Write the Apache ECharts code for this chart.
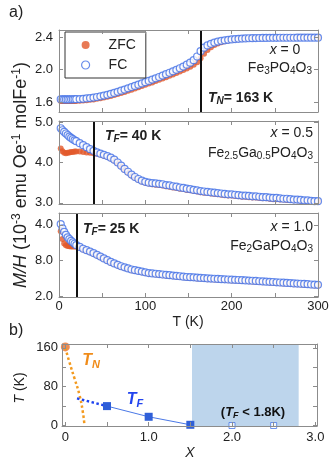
<!DOCTYPE html>
<html lang="en">
<head>
<meta charset="UTF-8">
<title>Fe3-xGaxPO4O3 M/H</title>
<script src="https://cdn.jsdelivr.net/npm/echarts@6/dist/echarts.min.js"></script>
<style>
    html, body {margin: 0; padding: 0; background: #fff;}
    #chart {width: 332px; height: 462px;}
</style>
</head>
<body>
<div id="chart"></div>
<script>
// temperatures (K), shared by every M/H curve
var temps = [2, 4, 6, 8, 10, 12, 14, 16, 18, 20,
    24, 28, 32, 36, 40, 44, 48, 52, 56, 60,
    64, 68, 72, 76, 80, 84, 88, 92, 96, 100,
    104, 108, 112, 116, 120, 124, 128, 132, 136, 140,
    144, 148, 152, 156, 160, 164, 168, 172, 176, 180,
    184, 188, 192, 196, 200, 204, 208, 212, 216, 220,
    224, 228, 232, 236, 240, 244, 248, 252, 256, 260,
    264, 268, 272, 276, 280, 284, 288, 292, 296, 300];

// x = 0
var fc0 = [1.636, 1.635, 1.634, 1.634, 1.634, 1.634, 1.635, 1.635, 1.636, 1.637,
    1.639, 1.642, 1.646, 1.651, 1.657, 1.664, 1.672, 1.681, 1.691, 1.702,
    1.714, 1.727, 1.741, 1.755, 1.770, 1.785, 1.800, 1.815, 1.830, 1.845,
    1.861, 1.877, 1.893, 1.909, 1.926, 1.943, 1.961, 1.979, 1.997, 2.016,
    2.037, 2.060, 2.085, 2.115, 2.160, 2.225, 2.268, 2.296, 2.316, 2.331,
    2.343, 2.352, 2.359, 2.365, 2.370, 2.374, 2.377, 2.380, 2.382, 2.384,
    2.385, 2.386, 2.387, 2.388, 2.388, 2.389, 2.389, 2.389, 2.390, 2.390,
    2.390, 2.390, 2.390, 2.391, 2.391, 2.391, 2.391, 2.391, 2.391, 2.391];
var zfc0 = [1.616, 1.615, 1.614, 1.614, 1.614, 1.614, 1.614, 1.615, 1.615, 1.616,
    1.618, 1.621, 1.624, 1.629, 1.634, 1.641, 1.649, 1.657, 1.667, 1.677,
    1.688, 1.700, 1.713, 1.726, 1.740, 1.754, 1.768, 1.783, 1.798, 1.813,
    1.828, 1.843, 1.859, 1.875, 1.891, 1.907, 1.924, 1.941, 1.958, 1.976,
    1.994, 2.013, 2.034, 2.058, 2.090, 2.140, 2.195, 2.240, 2.275, 2.300,
    2.320, 2.335, 2.346, 2.355, 2.362, 2.368, 2.372, 2.376, 2.379, 2.381,
    2.382, 2.383, 2.384, 2.385, 2.386, 2.386, 2.387, 2.387, 2.387, 2.388,
    2.388, 2.388, 2.388, 2.389, 2.389, 2.389, 2.389, 2.389, 2.389, 2.389];

// x = 0.5
var fc1 = [4.85, 4.80, 4.76, 4.72, 4.68, 4.64, 4.61, 4.58, 4.55, 4.53,
    4.48, 4.43, 4.38, 4.33, 4.29, 4.25, 4.22, 4.19, 4.16, 4.12,
    4.07, 4.00, 3.92, 3.84, 3.77, 3.70, 3.64, 3.59, 3.55, 3.52,
    3.50, 3.49, 3.48, 3.47, 3.46, 3.44, 3.43, 3.41, 3.40, 3.38,
    3.37, 3.35, 3.34, 3.32, 3.31, 3.29, 3.28, 3.27, 3.26, 3.25,
    3.24, 3.23, 3.22, 3.21, 3.21, 3.20, 3.19, 3.18, 3.18, 3.17,
    3.16, 3.16, 3.15, 3.14, 3.14, 3.13, 3.12, 3.12, 3.11, 3.10,
    3.10, 3.09, 3.08, 3.08, 3.07, 3.06, 3.06, 3.05, 3.04, 3.04];
var zfc1 = [4.35, 4.28, 4.24, 4.23, 4.24, 4.25, 4.26, 4.26, 4.27, 4.27,
    4.27, 4.26, 4.25, 4.24, 4.23, 4.22, 4.20, 4.17, 4.14, 4.10,
    4.05, 3.98, 3.90, 3.82, 3.75, 3.68, 3.62, 3.57, 3.53, 3.50,
    3.48, 3.46, 3.45, 3.44, 3.43, 3.41, 3.40, 3.38, 3.37, 3.35,
    3.34, 3.32, 3.31, 3.29, 3.28, 3.26, 3.25, 3.24, 3.23, 3.22,
    3.21, 3.20, 3.19, 3.18, 3.18, 3.17, 3.16, 3.15, 3.15, 3.14,
    3.13, 3.13, 3.12, 3.11, 3.11, 3.10, 3.09, 3.09, 3.08, 3.08,
    3.07, 3.07, 3.06, 3.06, 3.05, 3.05, 3.05, 3.04, 3.04, 3.03];

// x = 1.0
var fc2 = [4.02, 3.90, 3.80, 3.72, 3.65, 3.60, 3.55, 3.51, 3.47, 3.43,
    3.38, 3.33, 3.29, 3.25, 3.21, 3.16, 3.11, 3.06, 3.01, 2.96,
    2.92, 2.88, 2.84, 2.81, 2.78, 2.75, 2.73, 2.71, 2.69, 2.67,
    2.65, 2.64, 2.63, 2.62, 2.61, 2.60, 2.59, 2.58, 2.57, 2.56,
    2.55, 2.54, 2.535, 2.53, 2.52, 2.515, 2.51, 2.50, 2.495, 2.49,
    2.485, 2.48, 2.475, 2.47, 2.465, 2.46, 2.455, 2.45, 2.445, 2.44,
    2.435, 2.43, 2.42, 2.415, 2.41, 2.405, 2.40, 2.39, 2.385, 2.38,
    2.375, 2.37, 2.36, 2.355, 2.35, 2.345, 2.34, 2.33, 2.325, 2.32];
var zfc2 = [3.82, 3.60, 3.48, 3.43, 3.41, 3.40, 3.39, 3.39, 3.39, 3.39,
    3.36, 3.31, 3.27, 3.23, 3.19, 3.14, 3.09, 3.04, 2.99, 2.94,
    2.90, 2.86, 2.82, 2.79, 2.76, 2.73, 2.71, 2.69, 2.67, 2.65,
    2.63, 2.62, 2.61, 2.60, 2.59, 2.58, 2.57, 2.56, 2.55, 2.54,
    2.53, 2.52, 2.515, 2.51, 2.50, 2.495, 2.49, 2.48, 2.475, 2.47,
    2.465, 2.46, 2.455, 2.45, 2.445, 2.44, 2.435, 2.43, 2.425, 2.42,
    2.415, 2.41, 2.40, 2.395, 2.39, 2.385, 2.38, 2.37, 2.365, 2.36,
    2.355, 2.35, 2.34, 2.335, 2.33, 2.325, 2.32, 2.31, 2.305, 2.30];

// transition lines (K)
var transT = [164, 40, 20];

// tick values and labels
var tTicks = [0, 50, 100, 150, 200, 250, 300];
var tLabelVals = [0, 100, 200, 300];
var tLabels = ['0', '100', '200', '300'];
var yTicks0 = [1.6, 2.0, 2.4], yLabels0 = ['1.6', '2.0', '2.4'];
var yTicks1 = [3.0, 4.0, 5.0], yLabels1 = ['3.0', '4.0', '5.0'];
var yTicks2 = [2.0, 3.0, 4.0], yLabels2 = ['2.0', '8.0', '4.0'];
var xbTicks = [0, 0.5, 1.0, 1.5, 2.0, 2.5, 3.0];
var xbLabelVals = [0, 1, 2, 3], xbLabels = ['0', '1.0', '2.0', '3.0'];
var ybTicks = [0, 40, 80, 120, 160];
var ybLabelVals = [0, 80, 160], ybLabels = ['0', '80', '160'];

// phase diagram b)
var tnX = [0, 0.05, 0.11, 0.17, 0.21, 0.23];
var tnY = [160, 130, 97, 63, 28, 0];
var tnPointX = [0], tnPointY = [162];
var tfDotX = [0.14, 0.5], tfDotY = [56, 40];
var tfX = [0.5, 1.0, 1.5], tfY = [40, 18, 1.5];
var tfOpenX = [2.0, 2.5], tfOpenY = [0, 0];
var shadeX = [1.52, 2.8];

var blue = '#4470e6', orange = '#e2592a';
var axisGray = '#8c8c8c';
var font = 'Liberation Sans';

function zip(xs, ys) {
    return xs.map(function (x, i) { return [x, ys[i]]; });
}

function mkAxis(grid, pos, min, max, ticks, labelVals, labels, margin) {
    var ax = {
        type: 'value', gridIndex: grid, position: pos, min: min, max: max, z: 5,
        axisLine: {show: true, onZero: false, lineStyle: {color: axisGray, width: 1}},
        axisTick: {show: true, inside: true, length: 4, customValues: ticks, lineStyle: {color: axisGray}},
        splitLine: {show: false},
        axisLabel: {show: false}
    };
    if (labels) {
        ax.axisLabel = {
            show: true, customValues: labelVals, margin: margin,
            color: '#222', fontSize: 13, fontFamily: font,
            formatter: function (v) {
                for (var i = 0; i < labelVals.length; i++) {
                    if (Math.abs(v - labelVals[i]) < 1e-6) return labels[i];
                }
                return '';
            }
        };
    }
    return ax;
}

var grids = [
    {left: 59, top: 30, width: 259, height: 82},
    {left: 59, top: 121, width: 259, height: 83},
    {left: 59, top: 213, width: 259, height: 84},
    {left: 62, top: 344, width: 255, height: 82}
];

var yRanges = [[1.48, 2.485, yTicks0, yLabels0], [2.97, 5.03, yTicks1, yLabels1], [1.98, 4.33, yTicks2, yLabels2]];
var xAxes = [], yAxes = [];
for (var g = 0; g < 3; g++) {
    xAxes.push(mkAxis(g, 'bottom', 0, 300, tTicks, tLabelVals, g === 2 ? tLabels : null, 3));
    xAxes.push(mkAxis(g, 'top', 0, 300, tTicks));
    var yr = yRanges[g];
    yAxes.push(mkAxis(g, 'left', yr[0], yr[1], yr[2], yr[2], yr[3], 6));
    yAxes.push(mkAxis(g, 'right', yr[0], yr[1], yr[2]));
}
xAxes.push(mkAxis(3, 'bottom', -0.04, 3.02, xbTicks, xbLabelVals, xbLabels, 5));
xAxes.push(mkAxis(3, 'top', -0.04, 3.02, xbTicks));
yAxes.push(mkAxis(3, 'left', -1, 168, ybTicks, ybLabelVals, ybLabels, 4));
yAxes.push(mkAxis(3, 'right', -1, 168, ybTicks));

var series = [];
[[zfc0, fc0], [zfc1, fc1], [zfc2, fc2]].forEach(function (p, i) {
    series.push({
        type: 'scatter', name: 'ZFC', xAxisIndex: 2 * i, yAxisIndex: 2 * i,
        data: zip(temps, p[0]), symbolSize: 6, itemStyle: {color: orange}
    });
    series.push({
        type: 'scatter', name: 'FC', xAxisIndex: 2 * i, yAxisIndex: 2 * i,
        data: zip(temps, p[1]), symbolSize: 7,
        itemStyle: {color: '#fff', borderColor: blue, borderWidth: 1.2},
        markLine: {
            silent: true, symbol: ['none', 'none'], label: {show: false},
            lineStyle: {color: '#111', width: 2, type: 'solid'},
            data: [{xAxis: transT[i]}]
        }
    });
});

// b) phase diagram
series.push({
    type: 'scatter', name: 'open', xAxisIndex: 6, yAxisIndex: 6,
    data: zip(tfOpenX, tfOpenY), symbol: 'rect', symbolSize: 6,
    itemStyle: {color: '#fff', borderColor: '#4a78e6', borderWidth: 1},
    markArea: {
        silent: true, itemStyle: {color: '#bdd5ec', opacity: 1},
        data: [[{xAxis: shadeX[0]}, {xAxis: shadeX[1]}]]
    }
});
series.push({
    type: 'line', name: 'TNline', xAxisIndex: 6, yAxisIndex: 6,
    data: zip(tnX, tnY), smooth: true, showSymbol: false,
    lineStyle: {color: '#f39a1f', width: 2.5, type: 'dotted'}
});
series.push({
    type: 'scatter', name: 'TNpt', xAxisIndex: 6, yAxisIndex: 6,
    data: zip(tnPointX, tnPointY), symbolSize: 9, itemStyle: {color: '#e8702a'}
});
series.push({
    type: 'line', name: 'TFdot', xAxisIndex: 6, yAxisIndex: 6,
    data: zip(tfDotX, tfDotY), showSymbol: false,
    lineStyle: {color: '#1f44f0', width: 2.5, type: 'dotted'}
});
series.push({
    type: 'line', name: 'TF', xAxisIndex: 6, yAxisIndex: 6,
    data: zip(tfX, tfY), symbol: 'rect', symbolSize: 8, showSymbol: true,
    itemStyle: {color: '#2f5fd8'},
    lineStyle: {color: '#4a78e6', width: 1}
});

// text helpers
var rich = {
    i: {fontStyle: 'italic', fontSize: 14, lineHeight: 17},
    n: {fontSize: 14, lineHeight: 17},
    s: {fontSize: 10, lineHeight: 11, verticalAlign: 'bottom'},
    bi: {fontStyle: 'italic', fontWeight: 'bold', fontSize: 14, lineHeight: 17},
    bs: {fontStyle: 'italic', fontWeight: 'bold', fontSize: 10, lineHeight: 11, verticalAlign: 'bottom'},
    b: {fontWeight: 'bold', fontSize: 14, lineHeight: 17},
    sup: {fontSize: 10, lineHeight: 11, verticalAlign: 'top'}
};

function txt(x, y, text, align, extra) {
    var el = {
        type: 'text', x: x, y: y, z: 100,
        style: {
            text: text, fill: '#222', fontFamily: font, fontSize: 14,
            textAlign: align || 'left', textVerticalAlign: 'middle',
            align: align || 'left', verticalAlign: 'middle', rich: rich
        }
    };
    if (extra) {
        for (var k in extra) el[k] = extra[k];
    }
    return el;
}

var yTitle = '{i2|M/H} (10{sup2|-3} emu Oe{sup2|-1} molFe{sup2|-1})';

var graphics = [
    txt(9, 13, 'a)', 'left', {style: {text: 'a)', fill: '#222', fontFamily: font, fontSize: 16, verticalAlign: 'middle', textVerticalAlign: 'middle'}}),
    txt(9, 331, 'b)', 'left', {style: {text: 'b)', fill: '#222', fontFamily: font, fontSize: 16, verticalAlign: 'middle', textVerticalAlign: 'middle'}}),
    txt(21, 175, yTitle, 'center', {rotation: Math.PI / 2,
        style: {text: yTitle, fill: '#222', fontFamily: font, fontSize: 18,
            lineHeight: 21, align: 'center', verticalAlign: 'middle', textAlign: 'center', textVerticalAlign: 'middle',
            rich: {i2: {fontStyle: 'italic', fontSize: 18, lineHeight: 21}, sup2: {fontSize: 12, lineHeight: 13, verticalAlign: 'top'}}}}),
    txt(188, 322, '{n|T (K)}', 'center'),
    txt(285, 50, '{i|x}{n| = 0}', 'center'),
    txt(312, 68, '{n|Fe}{s|3}{n|PO}{s|4}{n|O}{s|3}', 'right'),
    txt(208, 98, '{bi|T}{bs|N}{b|= 163 K}', 'left'),
    txt(313, 133, '{i|x}{n| = 0.5}', 'right'),
    txt(313, 153, '{n|Fe}{s|2.5}{n|Ga}{s|0.5}{n|PO}{s|4}{n|O}{s|3}', 'right'),
    txt(105, 136, '{bi|T}{bs|F}{b|= 40 K}', 'left'),
    txt(313, 227, '{i|x}{n| = 1.0}', 'right'),
    txt(313, 246, '{n|Fe}{s|2}{n|GaPO}{s|4}{n|O}{s|3}', 'right'),
    txt(83, 229, '{bi|T}{bs|F}{b|= 25 K}', 'left'),
    txt(20, 388, '{i|T}{n| (K)}', 'center', {rotation: Math.PI / 2}),
    txt(190, 453, '{i|X}', 'center'),
    txt(91, 361, '{bi|T}{bs|N}', 'center', {style: {text: '{t|T}{u|N}', fill: '#f08c1a', fontFamily: font,
        align: 'center', verticalAlign: 'middle', textAlign: 'center', textVerticalAlign: 'middle',
        rich: {t: {fontStyle: 'italic', fontWeight: 'bold', fontSize: 16, lineHeight: 19}, u: {fontStyle: 'italic', fontWeight: 'bold', fontSize: 11, lineHeight: 12, verticalAlign: 'bottom'}}}}),
    txt(135, 400, '{bi|T}{bs|F}', 'center', {style: {text: '{t|T}{u|F}', fill: '#2244ee', fontFamily: font,
        align: 'center', verticalAlign: 'middle', textAlign: 'center', textVerticalAlign: 'middle',
        rich: {t: {fontStyle: 'italic', fontWeight: 'bold', fontSize: 16, lineHeight: 19}, u: {fontStyle: 'italic', fontWeight: 'bold', fontSize: 11, lineHeight: 12, verticalAlign: 'bottom'}}}}),
    txt(253, 412, '{c|(}{ci|T}{cs|F}{c| < 1.8K)}', 'center', {style: {text: '{c|(}{ci|T}{cs|F}{c| < 1.8K)}', fill: '#111', fontFamily: font,
        align: 'center', verticalAlign: 'middle', textAlign: 'center', textVerticalAlign: 'middle',
        rich: {c: {fontWeight: 'bold', fontSize: 13, lineHeight: 16}, ci: {fontWeight: 'bold', fontStyle: 'italic', fontSize: 13, lineHeight: 16}, cs: {fontWeight: 'bold', fontStyle: 'italic', fontSize: 9, lineHeight: 10, verticalAlign: 'bottom'}}}})
];

var chart = echarts.init(document.getElementById('chart'), null, {renderer: 'canvas'});
chart.setOption({
    animation: false,
    backgroundColor: '#fff',
    textStyle: {fontFamily: font},
    grid: grids,
    xAxis: xAxes,
    yAxis: yAxes,
    legend: {
        data: [
            {name: 'ZFC', icon: 'circle', itemStyle: {color: orange}},
            {name: 'FC', icon: 'circle', itemStyle: {color: '#fff', borderColor: blue, borderWidth: 1.2}}
        ],
        orient: 'vertical', left: 65, top: 32,
        itemWidth: 8, itemHeight: 8, itemGap: 4,
        padding: [5, 10, 5, 16],
        borderColor: '#333', borderWidth: 1,
        selectedMode: false,
        textStyle: {fontSize: 14, fontFamily: font, color: '#222', padding: [0, 0, 0, 14], lineHeight: 16}
    },
    series: series,
    graphic: graphics
});
</script>
</body>
</html>
